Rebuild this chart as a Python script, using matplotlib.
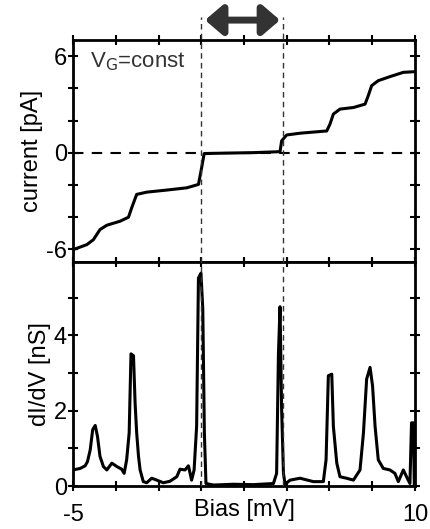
import numpy as np
import matplotlib
matplotlib.use("Agg")
import matplotlib.pyplot as plt
import matplotlib.transforms as mtransforms
from matplotlib.lines import Line2D

plt.rcParams['font.family'] = ['Liberation Sans', 'DejaVu Sans']

# current vs bias (upper panel)
bias_i = [-5.0, -4.40, -4.11, -3.82, -3.52, -2.94, -2.57, -2.43, -2.21, -1.77, -0.89, -0.01,
          0.50, 0.64, 0.75, 1.30, 2.91, 4.08, 4.15, 4.37, 4.96, 6.13, 6.27, 6.42, 6.71,
          7.30, 7.81, 7.95, 8.10, 8.39, 8.90, 9.49, 10.0]
current = [-6.04, -5.73, -5.42, -4.79, -4.52, -4.27, -4.02, -3.44, -2.60, -2.46, -2.33, -2.19,
           -1.98, -0.94, -0.06, -0.04, 0.0, 0.06, 0.73, 1.10, 1.21, 1.35, 1.77, 2.40, 2.71,
           2.81, 3.02, 3.54, 4.17, 4.48, 4.73, 5.00, 5.04]

# differential conductance (lower panel)
bias_g = [-5.0, -4.69, -4.47, -4.37, -4.25, -4.14, -4.03, -3.93, -3.82, -3.67, -3.52, -3.30,
          -3.08, -2.87, -2.76, -2.65, -2.54, -2.46, -2.35, -2.28, -2.21, -2.13, -2.06, -1.92,
          -1.77, -1.55, -1.33, -1.04, -0.75, -0.45, -0.31, -0.09, 0.06, 0.20, 0.31, 0.42,
          0.50, 0.61, 0.69, 0.76, 0.83, 1.16, 2.03, 2.91, 3.79, 3.93, 4.01, 4.08, 4.15,
          4.23, 4.30, 4.52, 4.96, 5.54, 5.98, 6.10, 6.20, 6.35, 6.42, 6.57, 6.71, 7.00,
          7.30, 7.59, 7.74, 7.88, 8.03, 8.14, 8.25, 8.39, 8.61, 8.90, 9.12, 9.27, 9.49,
          9.63, 9.78, 9.85, 9.93, 9.97]
didv = [0.43, 0.47, 0.54, 0.65, 0.96, 1.50, 1.61, 1.32, 0.79, 0.52, 0.43, 0.61,
        0.52, 0.45, 0.34, 0.70, 1.41, 3.51, 3.46, 2.21, 1.41, 0.79, 0.43, 0.12,
        0.09, 0.21, 0.16, 0.09, 0.13, 0.25, 0.45, 0.43, 0.54, 0.16, 0.43, 1.59,
        5.52, 5.65, 4.71, 1.41, 0.07, 0.03, 0.05, 0.04, 0.07, 0.34, 3.51, 4.76, 2.04,
        0.34, 0.05, 0.16, 0.21, 0.12, 0.12, 0.70, 2.93, 2.97, 1.59, 0.61, 0.25, 0.21,
        0.16, 0.43, 1.41, 2.84, 3.15, 2.66, 1.59, 0.70, 0.47, 0.43, 0.34, 0.12, 0.43,
        0.25, 0.07, 1.68, 1.68, 0.07]

# blockade window edges
edges = [0.625, 4.2]
arrow_span = [0.79, 4.08]

fig = plt.figure(figsize=(4.3, 5.29), dpi=100)
left, right = 0.170, 0.965
ax1 = fig.add_axes([left, 0.505, right - left, 0.924 - 0.505])
ax2 = fig.add_axes([left, 0.081, right - left, 0.505 - 0.081], sharex=ax1)

xt = np.linspace(-5, 10, 9)

ax1.plot(bias_i, current, color='black', lw=2.2)
ax1.axhline(0, color='black', lw=1.5, ls=(0, (5, 4)))
ax1.set_xlim(-5, 10)
ax1.set_ylim(-6.8, 7.0)
ax1.set_yticks([-6, -4, -2, 0, 2, 4, 6])
ax1.set_yticklabels(['-6', '', '', '0', '', '', '6'])
ax1.set_ylabel('current [pA]', fontsize=17, labelpad=2)
ax1.text(-4.25, 5.3, r'V$_\mathrm{G}$=const', fontsize=16, color='#333333')
ax1.set_xticks(xt)
ax1.tick_params(axis='x', which='both', top=True, bottom=True, direction='inout',
                length=7, width=1.5, labelbottom=False)
ax1.tick_params(axis='y', right=True, direction='inout', length=7, width=1.5, labelsize=17, pad=1)

ax2.plot(bias_g, didv, color='black', lw=2.2)
ax2.set_ylim(0, 5.95)
ax2.set_yticks([0, 1, 2, 3, 4, 5])
ax2.set_yticklabels(['0', '', '2', '', '4', ''])
ax2.set_ylabel('dI/dV [nS]', fontsize=17, labelpad=2)
ax2.set_xticks(xt)
ax2.set_xticklabels(['-5', '', '', '', '', '', '', '', '10'])
ax2.set_xlabel('Bias [mV]', fontsize=17, labelpad=-19)
ax2.tick_params(axis='x', top=True, direction='inout', length=7, width=1.5, labelsize=17, pad=9)
ax2.tick_params(axis='y', right=True, direction='inout', length=7, width=1.5, labelsize=17, pad=1)

for ax in (ax1, ax2):
    for s in ax.spines.values():
        s.set_linewidth(2)

# dashed guides through both panels
trans = mtransforms.blended_transform_factory(ax1.transData, fig.transFigure)
for x in edges:
    fig.add_artist(Line2D([x, x], [0.081, 0.968], transform=trans, color='#333333',
                          lw=1, ls=(0, (4, 3))))

ax1.annotate('', xy=(arrow_span[1], 0.962), xytext=(arrow_span[0], 0.962),
             xycoords=trans, textcoords=trans, annotation_clip=False,
             arrowprops=dict(arrowstyle='<|-|>,head_length=0.7,head_width=0.6',
                             color='#333333', lw=5, mutation_scale=15, shrinkA=0, shrinkB=0))

fig.savefig('out.png', dpi=100)
